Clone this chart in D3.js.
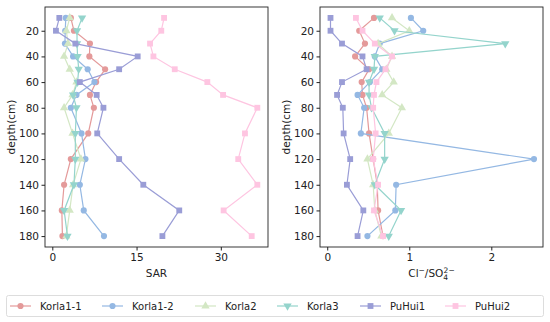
<!DOCTYPE html>
<html>
<head>
<meta charset="utf-8">
<script src="https://cdn.jsdelivr.net/npm/d3@7"></script>
<style>
  body { margin: 0; background: #fff; }
  svg text { font-family: "DejaVu Sans", sans-serif; fill: #222; }
</style>
</head>
<body>
<div id="chart"></div>
<script>
// depth levels (cm)
const depths = [10, 20, 30, 40, 50, 60, 70, 80, 100, 120, 140, 160, 180];
const seriesNames = ["Korla1-1", "Korla1-2", "Korla2", "Korla3", "PuHui1", "PuHui2"];

// SAR values per site
const sarKorla11 = [3.3, 3.85, 6.7, 6.6, 9.4, 7.8, 6.7, 7.4, 6.4, 3.3, 2.1, 1.7, 1.8];
const sarKorla12 = [2.4, 2.3, 2.25, 3.7, 6.3, 7.5, 4.3, 3.3, 5.2, 5.9, 4.9, 5.6, 9.2];
const sarKorla2 = [3.1, 2.5, 2.8, 2.1, 3.1, 4.3, 3.6, 2.1, 3.6, 5.1, 3.7, 3.1, 2.5];
const sarKorla3 = [5.3, 4.4, 4.4, 4.5, 4.7, 4.5, 3.7, 4.3, 4.1, 4.1, 3.85, 2.1, 2.7];
const sarPuHui1 = [1.25, 0.65, 4.1, 15.2, 11.9, 4.9, 7.9, 9.1, 8.0, 11.9, 16.2, 22.6, 19.6];
const sarPuHui2 = [19.9, 19.4, 17.4, 18.0, 21.8, 27.6, 30.4, 36.5, 34.3, 33.1, 36.5, 30.5, 35.5];

// Cl-/SO4 2- ratio per site
const clKorla11 = [0.57, 0.39, 0.46, 0.34, 0.51, 0.42, 0.43, 0.48, 0.51, 0.56, 0.61, 0.62, 0.68];
const clKorla12 = [1.02, 1.17, 0.64, 0.58, 0.67, 0.52, 0.37, 0.45, 0.41, 2.52, 0.84, 0.83, 0.49];
const clKorla2 = [0.79, 1.0, 0.62, 0.79, 0.72, 0.81, 0.67, 0.91, 0.75, 0.49, 0.56, 0.58, 0.66];
const clKorla3 = [0.64, 0.82, 2.17, 0.58, 0.57, 0.51, 0.51, 0.54, 0.70, 0.70, 0.58, 0.90, 0.75];
const clPuHui1 = [0.04, 0.04, 0.18, 0.43, 0.48, 0.18, 0.12, 0.19, 0.20, 0.28, 0.24, 0.44, 0.37];
const clPuHui2 = [0.35, 0.43, 0.58, 0.79, 0.71, 0.60, 0.57, 0.56, 0.59, 0.56, 0.62, 0.57, 0.68];

const sarTicks = [0, 15, 30];
const clTicks = [0, 1, 2];
const depthTicks = [20, 40, 60, 80, 100, 120, 140, 160, 180];

const colors = ["#e49a9a", "#94b8e3", "#d3e7c4", "#94d4cc", "#9a9dd6", "#fec5e1"];
const markers = ["circle", "circle", "up", "down", "square", "square"];

const svg = d3.select("#chart").append("svg")
    .attr("width", 550)
    .attr("height", 322);

function symbolPath(kind) {
    if (kind === "circle") return d3.symbol().type(d3.symbolCircle).size(30)();
    if (kind === "square") return d3.symbol().type(d3.symbolSquare).size(34)();
    return d3.symbol().type(d3.symbolTriangle).size(30)();
}

function drawPanel(left, right, xDomain, xTicks, seriesData, xLabel) {
    const top = 7, bottom = 247;
    const x = d3.scaleLinear().domain(xDomain).range([left, right]);
    const y = d3.scaleLinear().domain([1.5, 188.5]).range([top, bottom]);
    const g = svg.append("g");

    seriesData.forEach((vals, i) => {
        const pts = depths.map((d, j) => [x(vals[j]), y(d)]);
        g.append("path")
            .attr("d", d3.line()(pts))
            .attr("fill", "none")
            .attr("stroke", colors[i])
            .attr("stroke-width", 1.2);
        g.selectAll(null)
            .data(pts)
            .enter()
            .append("path")
            .attr("d", symbolPath(markers[i]))
            .attr("transform", p => `translate(${p[0]},${p[1]})` + (markers[i] === "down" ? " rotate(180)" : ""))
            .attr("fill", colors[i]);
    });

    g.append("rect")
        .attr("x", left).attr("y", top)
        .attr("width", right - left).attr("height", bottom - top)
        .attr("fill", "none").attr("stroke", "#222").attr("stroke-width", 0.9);

    const xAxis = g.append("g")
        .attr("transform", `translate(0,${bottom})`)
        .call(d3.axisBottom(x).tickValues(xTicks).tickSize(3.5).tickPadding(3.5).tickFormat(d3.format("d")));
    const yAxis = g.append("g")
        .attr("transform", `translate(${left},0)`)
        .call(d3.axisLeft(y).tickValues(depthTicks).tickSize(3.5).tickPadding(2.5));
    [xAxis, yAxis].forEach(a => {
        a.select(".domain").remove();
        a.selectAll("line").attr("stroke", "#222");
        a.selectAll("text").style("font-size", "10.5px").attr("fill", "#222");
    });

    g.append("text")
        .attr("transform", `translate(${left - 30},${(top + bottom) / 2}) rotate(-90)`)
        .attr("text-anchor", "middle")
        .style("font-size", "10.5px")
        .text("depth(cm)");

    const lab = g.append("text")
        .attr("x", (left + right) / 2)
        .attr("y", 277)
        .attr("text-anchor", "middle")
        .style("font-size", "10.5px");
    xLabel(lab);
}

drawPanel(45, 268, [-1.3, 38.4], sarTicks,
    [sarKorla11, sarKorla12, sarKorla2, sarKorla3, sarPuHui1, sarPuHui2],
    t => t.text("SAR"));

drawPanel(320, 543, [-0.088, 2.63], clTicks,
    [clKorla11, clKorla12, clKorla2, clKorla3, clPuHui1, clPuHui2],
    t => {
        t.append("tspan").text("Cl");
        t.append("tspan").attr("dy", -4).style("font-size", "7.5px").text("−");
        t.append("tspan").attr("dy", 4).text("/SO");
        t.append("tspan").attr("dy", 2.5).style("font-size", "7.5px").text("4");
        t.append("tspan").attr("dx", -4.5).attr("dy", -7).style("font-size", "7.5px").text("2−");
    });

// legend
const legend = svg.append("g");
legend.append("rect")
    .attr("x", 6.5).attr("y", 295.5)
    .attr("width", 537).attr("height", 21)
    .attr("rx", 2)
    .attr("fill", "#fff").attr("stroke", "#ddd");
const legendX = [10, 102, 195, 277, 360, 445];
seriesNames.forEach((name, i) => {
    const lx = legendX[i], ly = 306;
    legend.append("line")
        .attr("x1", lx).attr("x2", lx + 21)
        .attr("y1", ly).attr("y2", ly)
        .attr("stroke", colors[i]).attr("stroke-width", 1.2);
    legend.append("path")
        .attr("d", symbolPath(markers[i]))
        .attr("transform", `translate(${lx + 10.5},${ly})` + (markers[i] === "down" ? " rotate(180)" : ""))
        .attr("fill", colors[i]);
    legend.append("text")
        .attr("x", lx + 30).attr("y", ly + 3.5)
        .style("font-size", "10px")
        .text(name);
});
</script>
</body>
</html>
